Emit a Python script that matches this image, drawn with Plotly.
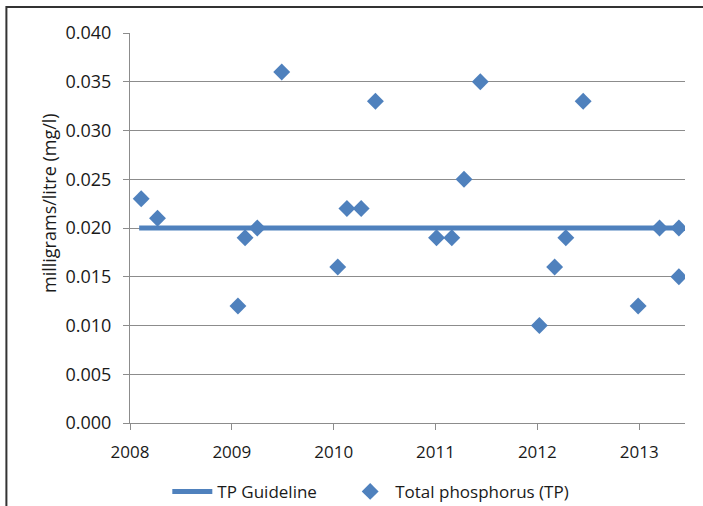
import plotly.graph_objects as go

# Sampling dates (decimal years) and total phosphorus concentrations (mg/l)
sample_years = [2008.11, 2008.27, 2009.06, 2009.13, 2009.25, 2009.49, 2010.04, 2010.13,
                2010.27, 2010.41, 2011.01, 2011.16, 2011.28, 2011.44, 2012.02, 2012.17,
                2012.28, 2012.45, 2012.99, 2013.20, 2013.39, 2013.39]
tp_values = [0.023, 0.021, 0.012, 0.019, 0.020, 0.036, 0.016, 0.022,
             0.022, 0.033, 0.019, 0.019, 0.025, 0.035, 0.010, 0.016,
             0.019, 0.033, 0.012, 0.020, 0.020, 0.015]

# Guideline level spanning the sampling period
guideline_years = [2008.09, 2013.39]
guideline_values = [0.020, 0.020]

year_ticks = [2008, 2009, 2010, 2011, 2012, 2013]
y_ticks = [0.000, 0.005, 0.010, 0.015, 0.020, 0.025, 0.030, 0.035, 0.040]

blue = "#4F81BD"
grid = "#8C8C8C"
font_family = "Open Sans, Liberation Sans, sans-serif"

fig = go.Figure()
fig.add_trace(go.Scatter(
    x=guideline_years, y=guideline_values, mode="lines",
    name="TP Guideline", line=dict(color=blue, width=5), legend="legend",
))
fig.add_trace(go.Scatter(
    x=sample_years, y=tp_values, mode="markers",
    name="Total phosphorus (TP)", legend="legend2",
    marker=dict(symbol="diamond", size=13, color=blue, line=dict(width=0)),
))

legend_common = dict(orientation="h", xref="container", yref="container",
                     y=0.028, xanchor="left", yanchor="middle",
                     font=dict(size=17), itemwidth=40, bgcolor="rgba(0,0,0,0)")

fig.update_layout(
    width=703, height=506,
    margin=dict(l=130, r=18, t=33, b=83, autoexpand=False),
    paper_bgcolor="white", plot_bgcolor="white",
    font=dict(family=font_family, size=17, color="#1a1a1a"),
    showlegend=True,
    legend=dict(x=0.238, **legend_common),
    legend2=dict(x=0.491, **legend_common),
    xaxis=dict(
        range=[2008, 2013.45], tickvals=year_ticks, ticktext=[str(t) for t in year_ticks],
        showgrid=False, zeroline=False, showline=True, linecolor=grid, linewidth=1,
        ticks="outside", ticklen=6, tickcolor=grid, automargin=False,
        ticklabelstandoff=8,
    ),
    yaxis=dict(
        range=[0, 0.04], tickvals=y_ticks, tickformat=".3f",
        showgrid=True, gridcolor=grid, gridwidth=1, zeroline=False,
        showline=True, linecolor=grid, linewidth=1,
        ticks="outside", ticklen=6, tickcolor=grid, automargin=False,
        tickfont=dict(size=18), ticklabelstandoff=8,
    ),
    annotations=[dict(text="milligrams/litre (mg/l)", textangle=-90,
                      xref="paper", yref="paper", x=-0.146, y=0.564,
                      xanchor="center", yanchor="middle", showarrow=False,
                      font=dict(size=18))],
    shapes=[dict(type="rect", xref="paper", yref="paper",
                 x0=-0.2227, x1=1.2, y0=-0.5, y1=1.0667,
                 line=dict(color="#333333", width=2), layer="below")],
)

fig.write_html("out.html")
